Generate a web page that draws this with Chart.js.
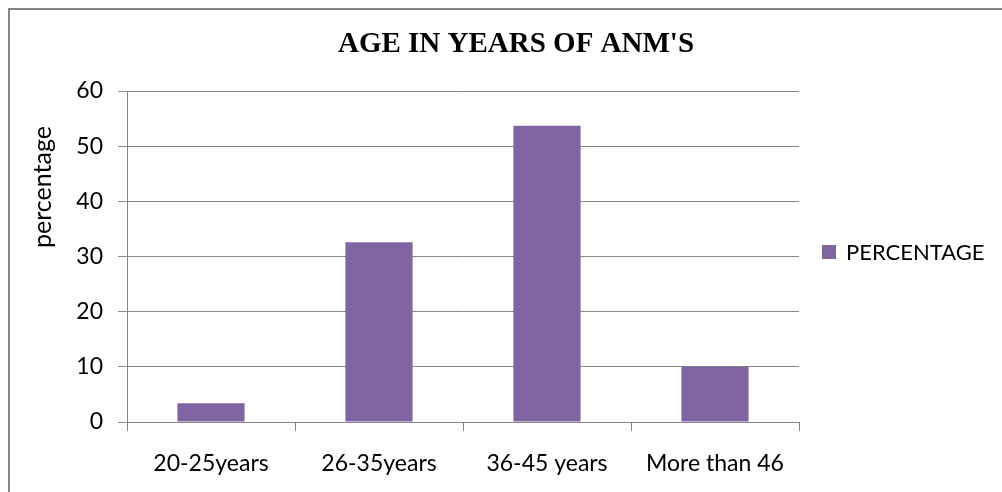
<!DOCTYPE html>
<html>
<head>
<meta charset="utf-8">
<title>Age in years of ANM's</title>
<script src="https://cdn.jsdelivr.net/npm/chart.js@4.4.1/dist/chart.umd.min.js"></script>
<style>
  html, body { margin: 0; padding: 0; background: #ffffff; }
  #wrap { position: relative; width: 1002px; height: 492px; }
  canvas { display: block; }
</style>
</head>
<body>
<div id="wrap"><canvas id="chart" width="1002" height="492"></canvas></div>
<script>
// Age groups of ANMs and their share in percent
const categories = ['20-25years', '26-35years', '36-45 years', 'More than 46'];
const percentages = [3.4, 32.6, 53.7, 10];
const seriesName = 'PERCENTAGE';
const yTicks = [0, 10, 20, 30, 40, 50, 60];

const chartTitle = "AGE IN YEARS OF ANM'S";
const yAxisTitle = 'percentage';

const BAR_COLOR = '#8064A2';
const LINE_COLOR = '#868686';
const LABEL_FONT = 'Lato';

// Frame, title, axis caption and legend drawn around the plot
const decorations = {
  id: 'decorations',
  beforeDraw(chart) {
    const ctx = chart.ctx;
    ctx.save();
    ctx.fillStyle = '#ffffff';
    ctx.fillRect(0, 0, chart.width, chart.height);
    ctx.strokeStyle = LINE_COLOR;
    ctx.lineWidth = 2;
    ctx.beginPath();
    ctx.moveTo(9, chart.height + 5);
    ctx.lineTo(9, 9);
    ctx.lineTo(chart.width + 5, 9);
    ctx.stroke();
    ctx.restore();
  },
  afterDraw(chart) {
    const ctx = chart.ctx;
    ctx.save();
    // title
    ctx.fillStyle = '#000000';
    ctx.font = 'bold 29px "Liberation Serif"';
    ctx.textAlign = 'center';
    ctx.textBaseline = 'alphabetic';
    ctx.fillText(chartTitle, 516, 52);

    // y axis caption
    ctx.save();
    ctx.translate(43, 187);
    ctx.rotate(-Math.PI / 2);
    ctx.font = '25px ' + LABEL_FONT;
    ctx.textAlign = 'center';
    ctx.textBaseline = 'middle';
    ctx.fillText(yAxisTitle, 0, 0);
    ctx.restore();

    // legend
    const ds = chart.data.datasets[0];
    ctx.fillStyle = ds.backgroundColor;
    ctx.fillRect(822, 245, 14, 14);
    ctx.fillStyle = '#000000';
    ctx.font = '22px ' + LABEL_FONT;
    ctx.textAlign = 'left';
    ctx.textBaseline = 'middle';
    ctx.fillText(ds.label, 846, 253);
    ctx.restore();
  }
};

new Chart(document.getElementById('chart'), {
  type: 'bar',
  data: {
    labels: categories,
    datasets: [{
      label: seriesName,
      data: percentages,
      backgroundColor: BAR_COLOR,
      borderWidth: 0,
      categoryPercentage: 1,
      barPercentage: 0.4
    }]
  },
  options: {
    responsive: false,
    animation: false,
    devicePixelRatio: 1,
    layout: { padding: { top: 91, right: 203, bottom: 0, left: 0 } },
    plugins: {
      legend: { display: false },
      title: { display: false },
      tooltip: { enabled: false }
    },
    scales: {
      x: {
        offset: true,
        grid: {
          offset: true,
          drawOnChartArea: false,
          drawTicks: true,
          tickLength: 9,
          color: LINE_COLOR,
          lineWidth: 1
        },
        border: { display: true, color: LINE_COLOR, width: 1 },
        ticks: {
          color: '#000000',
          font: { family: LABEL_FONT, size: 23 },
          padding: 19,
          maxRotation: 0,
          autoSkip: false
        },
        afterFit(scale) { scale.height = 70; }
      },
      y: {
        min: 0,
        max: 60,
        afterBuildTicks(scale) {
          scale.ticks = yTicks.map(v => ({ value: v }));
        },
        grid: {
          color: LINE_COLOR,
          lineWidth: 1,
          drawTicks: true,
          tickLength: 9
        },
        border: { display: true, color: LINE_COLOR, width: 1 },
        ticks: {
          color: '#000000',
          font: { family: LABEL_FONT, size: 23 },
          padding: 15
        },
        afterFit(scale) { scale.width = 127; }
      }
    }
  },
  plugins: [decorations]
});
</script>
</body>
</html>
